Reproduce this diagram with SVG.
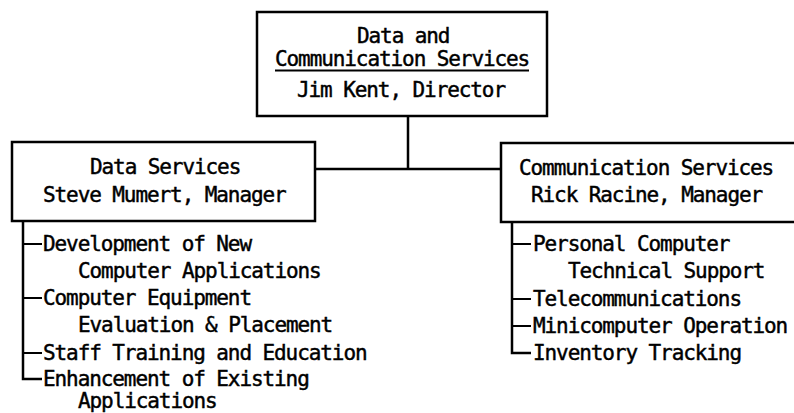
<svg xmlns="http://www.w3.org/2000/svg" width="794" height="413" viewBox="0 0 794 413">
<style>
.box{fill:#fff;stroke:#000;stroke-width:2.5}
.ln{fill:none;stroke:#000;stroke-width:2.5}
.tk{fill:none;stroke:#000;stroke-width:2}
text{font-family:"DejaVu Sans Mono","Liberation Mono",monospace;font-size:21px;letter-spacing:-1.09px;fill:#000;stroke:#000;stroke-width:0.45}
</style>
<rect width="794" height="413" fill="#fff"/>
<g id="connectors">
<path class="ln" d="M408,116 V169 M315,169 H501"/>
</g>
<g id="director">
<rect class="box" x="257" y="12" width="290" height="104"/>
<text x="357" y="43">Data and</text>
<text x="275" y="66">Communication Services</text>
<line class="tk" x1="275" y1="70.5" x2="529" y2="70.5"/>
<text x="297" y="97">Jim Kent, Director</text>
</g>
<g id="data-services">
<rect class="box" x="12" y="142" width="303" height="79"/>
<text x="90" y="174">Data Services</text>
<text x="43" y="202">Steve Mumert, Manager</text>
</g>
<g id="data-tasks">
<path class="ln" d="M23,221 V379 H42"/>
<path class="tk" d="M23,244 H42 M23,298 H42 M23,353 H42"/>
<text x="43" y="251">Development of New</text>
<text x="78" y="278">Computer Applications</text>
<text x="43" y="305">Computer Equipment</text>
<text x="78" y="332">Evaluation &amp; Placement</text>
<text x="43" y="360">Staff Training and Education</text>
<text x="43" y="386">Enhancement of Existing</text>
<text x="78" y="408">Applications</text>
</g>
<g id="communication-services">
<rect class="box" x="501" y="143" width="300" height="79"/>
<text x="519" y="175">Communication Services</text>
<text x="531" y="202">Rick Racine, Manager</text>
</g>
<g id="communication-tasks">
<path class="ln" d="M512,222 V353 H531"/>
<path class="tk" d="M512,244 H531 M512,299 H531 M512,326 H531"/>
<text x="533" y="251">Personal Computer</text>
<text x="568" y="278">Technical Support</text>
<text x="533" y="306">Telecommunications</text>
<text x="533" y="333">Minicomputer Operation</text>
<text x="533" y="360">Inventory Tracking</text>
</g>
</svg>
